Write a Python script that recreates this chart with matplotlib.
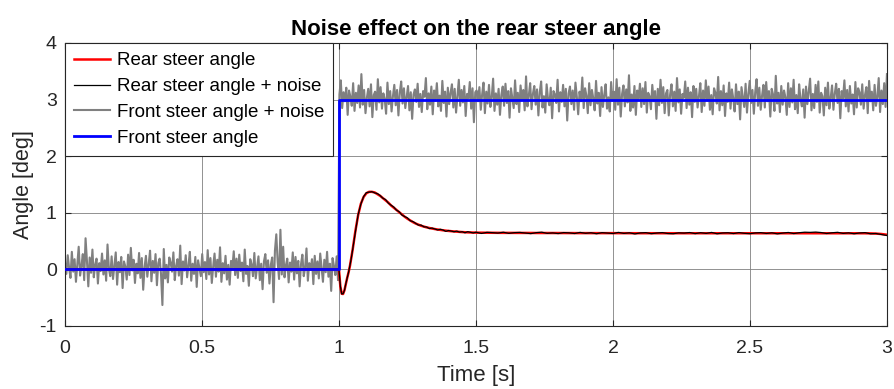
import numpy as np
import matplotlib
matplotlib.use("Agg")
from matplotlib import pyplot as plt

plt.rcParams['font.family'] = ['Liberation Sans', 'DejaVu Sans']
plt.rcParams['axes.unicode_minus'] = False

# front steer angle: step input at t = 1 s
front_t = [0.0, 1.0, 1.0, 3.0]
front_angle = [0.0, 0.0, 3.0, 3.0]
step_time = 1.0
front_before, front_after = 0.0, 3.0

# measurement noise on the front angle, in 1/100 deg (600 samples over 0..3 s)
front_noise = [
    12, -8, 25, 3, -15, 31, -4, 18, -22, 9, 40, -11, 6, 27, -19, 55, 15, -30, 21, -6,
    35, -14, 8, 19, -25, 11, -3, 28, -9, 16, -20, 44, 1, -12, 23, -17, 7, 30, -27, 13,
    -5, 22, -33, 14, 5, -18, 26, -10, 38, -2, 17, -24, 10, -7, 29, -15, 20, -36, 4, 24,
    -13, 9, 33, -21, 15, -6, 27, -28, 11, 19, -9, -63, 36, -16, 8, -23, 21, 12, -4, 30,
    -19, 6, 18, -11, 42, -26, 14, -2, 25, -14, 7, 31, -20, 10, -8, 22, -31, 16, 2, -12,
    27, -5, 13, -17, 34, -9, 20, -24, 5, 28, -13, 17, -4, 39, -22, 11, -7, 24, -18, 8,
    -27, 15, 3, 32, -10, 19, -15, 26, -3, 12, -21, 35, -8, 6, -29, 18, 9, -12, 29, -16,
    4, 23, -19, 10, -35, 14, 27, -6, 16, -25, 8, 21, -58, 33, 62, 13, -17, 70, -9, 40,
    -14, 7, 19, -23, 12, -4, 30, -18, 22, -7, 15, -30, 9, 26, -12, 3, 37, -20, 11, -1,
    18, -26, 24, -8, 14, -16, 28, 2, -22, 17, -5, 31, -13, 10, -38, 20, 6, -10, 23, -19,
    9, 34, -15, 13, -3, 21, -27, 16, 5, -11, 29, -20, 12, -6, 25, -14, 45, -9, 17, -24,
    3, 19, -12, 27, -31, 8, 14, -18, 36, -5, 22, -16, 11, 1, -25, 30, -8, 15, -21, 6,
    26, -10, 17, -28, 12, 32, -7, 20, -15, 4, 24, -19, 13, -34, 9, 18, -4, 28, -13, 10,
    -22, 15, 5, 38, -17, 11, -9, 23, -26, 16, -2, 29, -12, 7, -20, 33, -6, 14, -30, 21,
    -8, 12, 27, -14, 19, -23, 6, 35, -11, 17, -5, 24, -29, 10, 2, 31, -16, 20, -40, 13,
    16, -3, 22, -18, 9, 30, -24, 14, -7, 26, -13, 4, 37, -20, 11, -9, 19, -27, 8, 23,
    -11, 28, -6, 15, -32, 20, 3, -15, 34, -8, 12, -22, 25, -1, 17, -19, 41, -12, 7, 29,
    -17, 10, 24, -9, 18, -28, 13, 32, -14, 6, -23, 27, 1, -10, 21, -33, 15, 9, -6, 35,
    -21, 13, -4, 26, -12, 19, -37, 11, 23, -8, 16, -18, 30, 5, -26, 14, -3, 39, -15, 20,
    7, -24, 29, -10, 17, 2, -19, 33, -7, 12, -29, 22, -13, 8, 27, -16, 4, -21, 31, -2,
    14, -18, 36, -9, 21, -30, 10, 25, -12, 18, -5, 43, -20, 9, -14, 24, -27, 16, 1, 28,
    -13, 20, -8, 31, -23, 12, 6, -17, 26, -3, 15, -34, 19, -10, 35, -6, 22, -24, 11, 17,
    -28, 9, 27, -12, 14, -20, 38, -5, 18, -25, 10, 3, 32, -15, 21, -9, 13, -31, 24, -4,
    19, -14, 6, 29, -22, 16, -11, 34, -2, 23, -18, 8, -26, 20, 12, -7, 40, -19, 15, -10,
    25, -29, 11, -4, 30, -16, 18, 2, -21, 27, -8, 14, -35, 22, 5, -13, 28, -23, 10, 33,
    -6, 17, -25, 13, 36, -11, 21, -18, 7, 26, -14, 31, -3, 15, -30, 19, 9, -20, 42, -7,
    12, -22, 24, -9, 16, 4, -27, 29, -13, 20, -5, 35, -17, 8, -24, 27, 1, -12, 18, -32,
    23, -8, 14, 37, -19, 10, -15, 26, -4, 32, -23, 12, 6, -28, 21, -10, 30, -16, 3, 25,
    -18, 11, 28, -6, 19, -33, 15, 2, 34, -12, 17, -21, 24, -7, 9, -26, 31, -14, 20, 13,
    -9, 27, -16, 8, 22, -24, 33, -3, 14, -19, 26, -11, 5, 38, -22, 16, -8, 29, -13, 45,
]

# rear steer angle response, in 1/1000 deg
rear_angle = [
    0,
    # 1.000 .. 1.050, step 0.005
    0, -300, -430, -435, -370, -260, -150, -55, 60, 200, 350,
    # 1.06 .. 1.50, step 0.01
    680, 960, 1160, 1280, 1345, 1370, 1370,
    1360, 1330, 1300, 1260, 1220, 1180, 1130, 1090, 1050, 1010, 970, 930, 895,
    865, 835, 810, 790, 770, 755, 742, 731, 721, 712, 704, 697, 690, 684, 679,
    674, 670, 666, 662, 659, 656, 654, 652, 650, 649,
    # 1.52 .. 3.00, step 0.02
    648, 647, 646, 646, 645, 645, 644, 644, 644, 643, 643, 643, 642, 642, 642,
    642, 641, 641, 641, 641, 641, 640, 640, 640, 640, 640, 640, 639, 639, 639,
    639, 639, 639, 639, 639, 639, 639, 639, 639, 639, 639, 639, 639, 639, 639,
    639, 639, 639, 639, 639, 639, 639, 639, 639, 639, 639, 639, 639, 639, 639,
    639, 639, 639, 639, 639, 639, 639, 639, 639, 639, 638, 636, 632, 625, 612,
]

# sensor noise on the rear angle, in 1/1000 deg
rear_noise = [
    0, 0, 3, -4, 6, -2, 5, -7, 4, 8, -3, 2,
    -6, 9, -4, 7, 11, -5, 3, -8, 10, 6, -2, 14,
    -9, 5, 12, -4, 8, -11, 3, 15, -6, 10, 4, -8,
    13, -3, 7, -10, 9, 2, -7, 11, 5, -12, 8, 1,
    -5, 10, -3, 6, -9, 12, 4, -6, 8, -13, 7, 3,
    -4, 11, -8, 5, 9, -2, -11, 6, 14, -5, 2, -9,
    8, 4, -7, 12, -3, 6, -10, 9, 1, -6, 13, -4,
    7, -12, 5, 10, -8, 3, 11, -5, -9, 6, 2, 12,
    -7, 9, -3, 14, -10, 4, 8, -6, 11, -2, -8, 5,
    10, -4, 7, -11, 3, 13, -6, 9, 18, 15, 20, 12,
    -5, 8, 16, -3, 6, -9, 4, 11, -7, 2, -10, -14,
]

# sample times
rear_t = np.round(np.concatenate([[0.0],
                                  np.arange(1.0, 1.0501, 0.005),
                                  np.arange(1.06, 1.5001, 0.01),
                                  np.arange(1.52, 3.0001, 0.02)]), 4)
t_noise = np.linspace(0, 3, len(front_noise))

rear = np.array(rear_angle) / 1000.0
rear_noisy = rear + np.array(rear_noise) / 1000.0
front_grid = np.where(t_noise < step_time, front_before, front_after)
front_noisy = front_grid + np.array(front_noise) / 100.0

fig = plt.figure(figsize=(8.95, 3.89), dpi=100)
ax = fig.add_axes([0.0726, 0.162, 0.9184, 0.7275])

ax.plot(rear_t, rear, color='red', lw=1.8, label='Rear steer angle', zorder=3)
ax.plot(rear_t, rear_noisy, color='black', lw=0.9, label='Rear steer angle + noise', zorder=4)
ax.plot(t_noise, front_noisy, color=(0.5, 0.5, 0.5), lw=1.5, label='Front steer angle + noise', zorder=2)
ax.plot(front_t, front_angle, color='blue', lw=2.0, label='Front steer angle', zorder=5)

ax.set_xlim(0, 3)
ax.set_ylim(-1, 4)
ax.set_xticks([0, 0.5, 1, 1.5, 2, 2.5, 3])
ax.set_xticklabels(['0', '0.5', '1', '1.5', '2', '2.5', '3'])
ax.set_yticks([-1, 0, 1, 2, 3, 4])

dark = (0.15, 0.15, 0.15)
ax.grid(True, color=(0.5, 0.5, 0.5), lw=0.6)
ax.set_axisbelow(True)
ax.tick_params(direction='in', length=4, width=0.8, top=True, right=True,
               labelsize=14, colors=dark, labelcolor=dark)
ax.tick_params(axis='x', pad=10)
ax.tick_params(axis='y', pad=6)
for sp in ax.spines.values():
    sp.set_color(dark)
    sp.set_linewidth(0.8)

ax.set_xlabel('Time [s]', fontsize=16, color=dark, labelpad=6)
ax.set_ylabel('Angle [deg]', fontsize=15.5, color=dark, labelpad=4)
ax.set_title('Noise effect on the rear steer angle', fontsize=16, fontweight='bold', pad=6)

leg = ax.legend(loc='upper left', fontsize=13.5, frameon=True, fancybox=False,
                framealpha=1, edgecolor=dark, borderaxespad=0, handlelength=1.9,
                handletextpad=0.35, labelspacing=0.46, borderpad=0.5)
leg.get_frame().set_linewidth(0.8)

fig.savefig('out.png', dpi=100)
